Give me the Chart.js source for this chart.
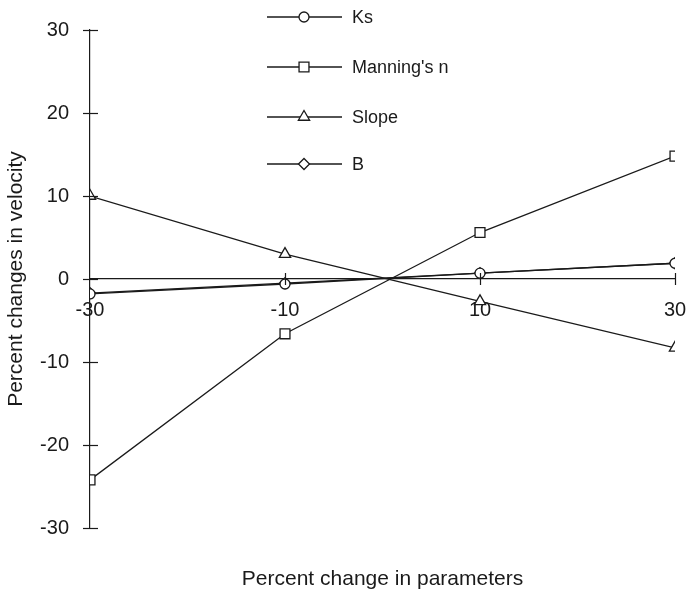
<!DOCTYPE html>
<html>
<head>
<meta charset="utf-8">
<script src="https://cdn.jsdelivr.net/npm/chart.js@4.4.1/dist/chart.umd.min.js"></script>
<style>
  html, body { margin: 0; padding: 0; background: #ffffff; }
  #wrap { width: 692px; height: 593px; position: relative; }
</style>
</head>
<body>
<div id="wrap"><canvas id="c" width="692" height="593"></canvas></div>
<script>
// ---- data ----
const paramChanges = [-30, -10, 10, 30];
const seriesNames = ["Ks", "Manning's n", "Slope", "B"];
const ksValues = [-1.8, -0.6, 0.7, 1.9];
const manningValues = [-24.2, -6.6, 5.6, 14.8];
const slopeValues = [10.0, 3.0, -2.7, -8.3];
const bValues = [-1.7, -0.5, 0.7, 1.9];
const xTickValues = [-30, -10, 10, 30];
const yTickValues = [-30, -20, -10, 0, 10, 20, 30];
const xTitle = "Percent change in parameters";
const yTitle = "Percent changes in velocity";

const INK = '#1a1a1a';
const FONT = "'Liberation Sans', Arial, sans-serif";

function pts(vals) { return paramChanges.map((x, i) => ({ x: x, y: vals[i] })); }

const styles = [
  { pointStyle: 'circle', radius: 5 },
  { pointStyle: 'rect', radius: 7 },
  { pointStyle: 'triangle', radius: 6.5 },
  { pointStyle: 'rectRot', radius: 5.5 }
];
const allValues = [ksValues, manningValues, slopeValues, bValues];

const datasets = allValues.map((vals, i) => ({
  label: seriesNames[i],
  data: pts(vals),
  borderColor: INK,
  borderWidth: 1.3,
  backgroundColor: '#ffffff',
  pointStyle: styles[i].pointStyle,
  pointRadius: styles[i].radius,
  pointBorderWidth: 1.3,
  pointBorderColor: INK,
  pointBackgroundColor: '#ffffff',
  tension: 0,
  fill: false
}));

// tick marks crossing the axes + custom legend
const axisDecor = {
  id: 'axisDecor',
  afterDraw(chart) {
    const ctx = chart.ctx;
    const xs = chart.scales.x, ys = chart.scales.y;
    ctx.save();
    ctx.strokeStyle = INK;
    ctx.lineWidth = 1.2;
    const ax = xs.left;
    yTickValues.forEach(v => {
      const py = Math.round(ys.getPixelForValue(v)) + 0.5;
      ctx.beginPath(); ctx.moveTo(ax - 7, py); ctx.lineTo(ax + 8, py); ctx.stroke();
    });
    const y0 = ys.getPixelForValue(0);
    xTickValues.forEach(v => {
      if (v === xTickValues[0]) return;
      const px = Math.round(xs.getPixelForValue(v)) + 0.5;
      ctx.beginPath(); ctx.moveTo(px, y0 - 6); ctx.lineTo(px, y0 + 6); ctx.stroke();
    });

    // legend
    const rows = [17, 67, 117, 164];
    chart.data.datasets.forEach((ds, i) => {
      const ry = rows[i];
      ctx.strokeStyle = INK;
      ctx.lineWidth = 1.3;
      ctx.beginPath(); ctx.moveTo(267, ry); ctx.lineTo(342, ry); ctx.stroke();
      ctx.fillStyle = '#ffffff';
      ctx.strokeStyle = INK;
      Chart.helpers.drawPoint(ctx, { pointStyle: ds.pointStyle, radius: ds.pointRadius, borderWidth: 1.3, rotation: 0 }, 304, ry);
      ctx.fillStyle = INK;
      ctx.font = "18px " + FONT;
      ctx.textAlign = 'left';
      ctx.textBaseline = 'middle';
      ctx.fillText(ds.label, 352, ry + 1);
    });
    ctx.restore();
  }
};

new Chart(document.getElementById('c'), {
  type: 'line',
  data: { datasets: datasets },
  options: {
    responsive: false,
    animation: false,
    events: [],
    layout: { padding: { left: 0, top: 30, right: 17, bottom: 65 } },
    plugins: { legend: { display: false }, tooltip: { enabled: false } },
    scales: {
      x: {
        type: 'linear',
        position: { y: 0 },
        min: -30, max: 30,
        afterBuildTicks: (s) => { s.ticks = xTickValues.map(v => ({ value: v })); },
        afterFit: (s) => { s.height = 312.6; s.paddingLeft = 0; s.paddingRight = 0; },
        grid: { display: true, drawOnChartArea: false, drawTicks: false },
        border: { display: true, color: INK, width: 1.2 },
        ticks: { color: INK, font: { family: FONT, size: 20 }, padding: 19, maxRotation: 0 },
        title: { display: true, text: xTitle, color: INK, font: { family: FONT, size: 21 }, padding: { top: 0, bottom: 0 } }
      },
      y: {
        type: 'linear',
        position: 'left',
        min: -30, max: 30,
        afterBuildTicks: (s) => { s.ticks = yTickValues.map(v => ({ value: v })); },
        afterFit: (s) => { s.width = 90; s.paddingTop = 0; s.paddingBottom = 0; },
        grid: { display: true, drawOnChartArea: false, drawTicks: false },
        border: { display: true, color: INK, width: 1.2 },
        ticks: { color: INK, font: { family: FONT, size: 20 }, padding: 21 },
        title: { display: true, text: yTitle, color: INK, font: { family: FONT, size: 21 }, padding: { top: 4, bottom: 0 } }
      }
    }
  },
  plugins: [axisDecor]
});
</script>
</body>
</html>
